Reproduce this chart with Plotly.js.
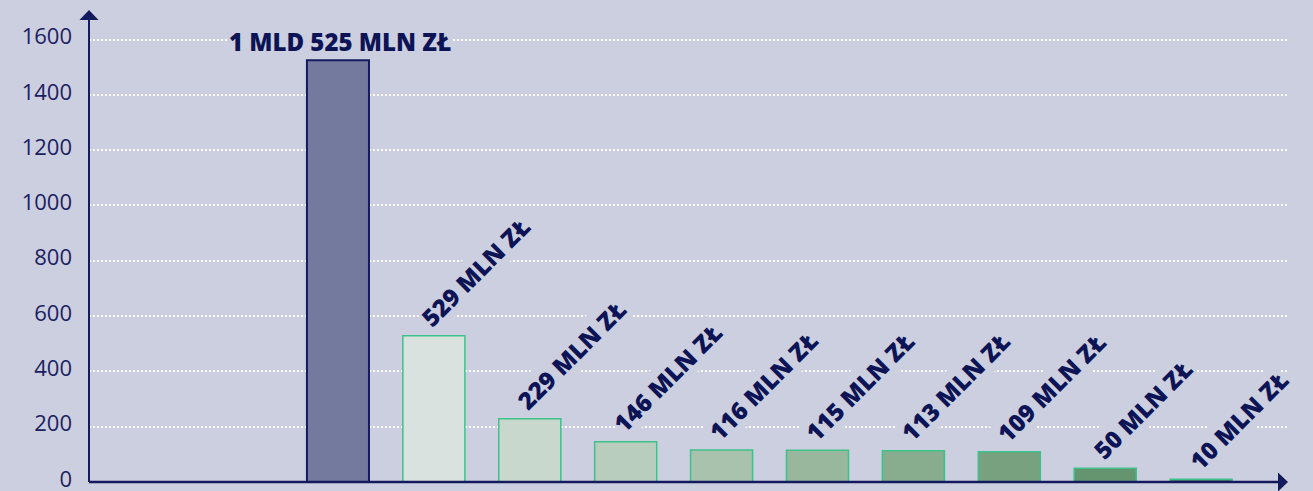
<!DOCTYPE html>
<html>
<head>
<meta charset="utf-8">
<script src="https://cdn.plot.ly/plotly-3.0.1.min.js"></script>
<style>
html,body{margin:0;padding:0;background:#cccfdf;}
#chart{width:1313px;height:491px;}
</style>
</head>
<body>
<div id="chart"></div>
<script>
// ---- data ----
var values = [1525, 529, 229, 146, 116, 115, 113, 109, 50, 10];
var labels = ["1 MLD 525 MLN ZŁ", "529 MLN ZŁ", "229 MLN ZŁ", "146 MLN ZŁ", "116 MLN ZŁ",
              "115 MLN ZŁ", "113 MLN ZŁ", "109 MLN ZŁ", "50 MLN ZŁ", "10 MLN ZŁ"];
var fills = ["#737a9e", "#d9e2df", "#c8d8cc", "#b8cdbc", "#a8c2ad",
             "#98b79d", "#88ac8e", "#78a17f", "#64956f", "#55896a"];
var yTicks = [0, 200, 400, 600, 800, 1000, 1200, 1400, 1600];

// ---- styling ----
var BG = "#cccfdf";
var NAVY = "#141b5c";
var W = 1313, H = 491;
var M = {l: 89, r: 25, t: 10, b: 9};
var pw = W - M.l - M.r, ph = H - M.t - M.b;

var xs = values.map(function (_, i) { return i; });
var lineColors = values.map(function (_, i) { return i === 0 ? NAVY : "#3cc28a"; });
var lineWidths = values.map(function (_, i) { return i === 0 ? 2 : 1.5; });

var trace = {
  type: "bar",
  x: xs,
  y: values,
  width: 0.647,
  marker: {color: fills, line: {color: lineColors, width: lineWidths}},
  hoverinfo: "skip"
};

var LABEL_FONT = {family: "Open Sans", size: 24, color: "#0c1456", weight: 800};
var annotations = values.map(function (v, i) {
  if (i === 0) {
    return {
      x: i, y: v, xref: "x", yref: "y", text: labels[i], showarrow: false,
      xanchor: "center", yanchor: "bottom", yshift: 1, xshift: 2,
      font: LABEL_FONT, bgcolor: BG, borderpad: 0
    };
  }
  return {
    x: i, y: v, xref: "x", yref: "y", text: labels[i], showarrow: false,
    textangle: -45, xanchor: "left", yanchor: "bottom", xshift: -21, yshift: 1,
    font: LABEL_FONT, bgcolor: BG, borderpad: 0
  };
});

// axis lines with arrowheads (pixel -> paper conversions)
function px(xp) { return xp / pw; }
function py(yp) { return yp / ph; }
var shapes = [
  {type: "line", xref: "paper", yref: "paper", x0: 0, x1: 0, y0: 0, y1: 1 - py(9),
   line: {color: NAVY, width: 2}},
  {type: "path", xref: "paper", yref: "paper",
   path: "M " + (0 - px(9.5)) + "," + (1 - py(10)) + " L " + 0 + "," + 1 + " L " + px(9.5) + "," + (1 - py(10)) + " Z",
   fillcolor: NAVY, line: {color: NAVY, width: 0}},
  {type: "line", xref: "paper", yref: "paper", x0: 0, x1: 1 - px(9), y0: 0, y1: 0,
   line: {color: NAVY, width: 2.5}},
  {type: "path", xref: "paper", yref: "paper",
   path: "M " + (1 - px(10)) + "," + py(9.5) + " L 1,0 L " + (1 - px(10)) + "," + (-py(9.5)) + " Z",
   fillcolor: NAVY, line: {color: NAVY, width: 0}}
];

var layout = {
  width: W, height: H,
  margin: M,
  paper_bgcolor: BG, plot_bgcolor: BG,
  showlegend: false,
  bargap: 0,
  xaxis: {
    range: [-2.596, 9.906], showgrid: false, zeroline: false, showline: false,
    showticklabels: false, ticks: "", fixedrange: true
  },
  yaxis: {
    range: [0, 1707], tickvals: yTicks, ticktext: yTicks.map(String),
    showgrid: true, gridcolor: "rgba(255,255,255,0.95)", gridwidth: 2, griddash: "2px,2px",
    zeroline: false, showline: false, ticks: "", ticklabelstandoff: 16,
    ticklabeloverflow: "allow", ticklabelshift: -3,
    tickfont: {family: "Open Sans", size: 22, color: "#1b2160"}, fixedrange: true
  },
  shapes: shapes,
  annotations: annotations
};

Plotly.newPlot("chart", [trace], layout, {displayModeBar: false, staticPlot: true});
</script>
</body>
</html>
